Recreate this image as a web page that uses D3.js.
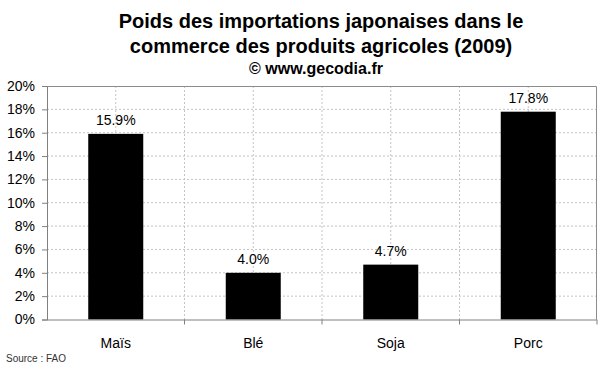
<!DOCTYPE html>
<html>
<head>
<meta charset="utf-8">
<script src="https://cdn.jsdelivr.net/npm/d3@7"></script>
<style>
  body { margin: 0; background: #fff; }
  svg { font-family: Arial, "Liberation Sans", sans-serif; display: block; }
</style>
</head>
<body>
<div id="chart"></div>
<script>
const categories = ["Maïs", "Blé", "Soja", "Porc"];
const values = [15.9, 4.0, 4.7, 17.8];
const yTicks = [0, 2, 4, 6, 8, 10, 12, 14, 16, 18, 20];
const titleLines = [
  "Poids des importations japonaises dans le",
  "commerce des produits agricoles (2009)"
];
const subtitle = "© www.gecodia.fr";
const source = "Source : FAO";

const W = 600, H = 372;
const margin = { top: 86, right: 3, bottom: 52.5, left: 47 },
  width = W - margin.left - margin.right,
  height = H - margin.top - margin.bottom;

const data = categories.map((c, i) => ({ cat: c, val: values[i] }));

const svg = d3
  .select("#chart")
  .append("svg")
  .attr("width", W)
  .attr("height", H);

// titles
svg.selectAll(".title")
  .data(titleLines)
  .enter()
  .append("text")
  .attr("class", "title")
  .attr("x", 321)
  .attr("y", (d, i) => 28 + i * 25)
  .attr("text-anchor", "middle")
  .style("font-size", "20px")
  .style("font-weight", "bold")
  .text((d) => d);

svg.append("text")
  .attr("x", 316)
  .attr("y", 74)
  .attr("text-anchor", "middle")
  .style("font-size", "16px")
  .style("font-weight", "bold")
  .text(subtitle);

const g = svg
  .append("g")
  .attr("transform", "translate(" + margin.left + "," + margin.top + ")");

const xScale = d3.scaleBand()
  .domain(categories)
  .range([0, width])
  .paddingInner(0.6)
  .paddingOuter(0.3);

const yScale = d3.scaleLinear().domain([0, 20]).range([height, 0]);

const step = xScale.step();
const centers = categories.map((c) => xScale(c) + xScale.bandwidth() / 2);
const vLines = [];
centers.forEach((c, i) => {
  vLines.push(c);
  if (i < centers.length - 1) vLines.push(c + step / 2);
});

// grid
g.append("g")
  .selectAll("line")
  .data(yTicks.filter((t) => t > 0 && t < 20))
  .enter()
  .append("line")
  .attr("x1", 0)
  .attr("x2", width)
  .attr("y1", (d) => yScale(d))
  .attr("y2", (d) => yScale(d))
  .attr("stroke", "#c4c4c4")
  .attr("stroke-dasharray", "2,2");

g.append("g")
  .selectAll("line")
  .data(vLines)
  .enter()
  .append("line")
  .attr("x1", (d) => d)
  .attr("x2", (d) => d)
  .attr("y1", 0)
  .attr("y2", height)
  .attr("stroke", "#c4c4c4")
  .attr("stroke-dasharray", "2,2");

// plot border top/right
g.append("path")
  .attr("d", "M0,0.5H" + (width - 0.5) + "V" + height)
  .attr("fill", "none")
  .attr("stroke", "#8c8c8c");

// bars
g.selectAll(".bar")
  .data(data)
  .enter()
  .append("rect")
  .attr("class", "bar")
  .attr("x", (d) => xScale(d.cat))
  .attr("y", (d) => yScale(d.val))
  .attr("width", xScale.bandwidth())
  .attr("height", (d) => height - yScale(d.val))
  .attr("fill", "#000");

g.selectAll(".lbl")
  .data(data)
  .enter()
  .append("text")
  .attr("class", "lbl")
  .attr("x", (d) => xScale(d.cat) + xScale.bandwidth() / 2)
  .attr("y", (d) => yScale(d.val) - 9)
  .attr("text-anchor", "middle")
  .style("font-size", "14px")
  .text((d) => d.val.toFixed(1) + "%");

// y axis
const yAxis = d3.axisLeft(yScale)
  .tickValues(yTicks)
  .tickSize(5)
  .tickPadding(7)
  .tickFormat((d) => d + "%");

const yAxisG = g.append("g").call(yAxis);
yAxisG.select(".domain").attr("stroke", "#808080");
yAxisG.selectAll(".tick line").attr("stroke", "#808080");
yAxisG.selectAll(".tick text")
  .style("font-size", "14px")
  .style("font-family", "Arial, 'Liberation Sans', sans-serif")
  .attr("fill", "#000");

// x axis
const xAxisG = g.append("g").attr("transform", "translate(0," + height + ")");
xAxisG.append("line")
  .attr("x1", 0)
  .attr("x2", width)
  .attr("y1", 0.5)
  .attr("y2", 0.5)
  .attr("stroke", "#808080");
xAxisG.selectAll(".xt")
  .data(categories)
  .enter()
  .append("line")
  .attr("class", "xt")
  .attr("x1", (d) => xScale(d) + xScale.bandwidth() / 2 + step / 2)
  .attr("x2", (d) => xScale(d) + xScale.bandwidth() / 2 + step / 2)
  .attr("y1", 0)
  .attr("y2", 5)
  .attr("stroke", "#808080");
xAxisG.selectAll(".xl")
  .data(categories)
  .enter()
  .append("text")
  .attr("class", "xl")
  .attr("x", (d) => xScale(d) + xScale.bandwidth() / 2)
  .attr("y", 28.5)
  .attr("text-anchor", "middle")
  .style("font-size", "14px")
  .text((d) => d);

svg.append("text")
  .attr("x", 6)
  .attr("y", 362)
  .style("font-size", "10px")
  .attr("fill", "#333")
  .text(source);
</script>
</body>
</html>
